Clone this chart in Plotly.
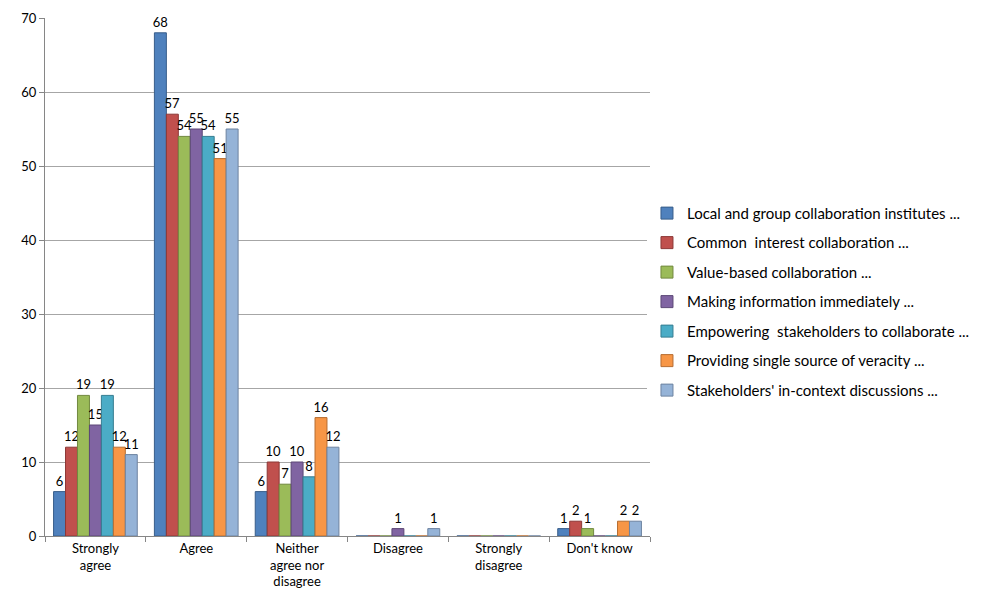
import plotly.graph_objects as go

# categories along the x axis
categories = ["Strongly<br>agree", "Agree", "Neither<br>agree nor<br>disagree",
              "Disagree", "Strongly<br>disagree", "Don't know"]

# one series per statement
series_names = [
    "Local and group collaboration institutes ...",
    "Common  interest collaboration ...",
    "Value-based collaboration ...",
    "Making information immediately ...",
    "Empowering  stakeholders to collaborate ...",
    "Providing single source of veracity ...",
    "Stakeholders' in-context discussions ...",
]

local_group = [6, 68, 6, 0, 0, 1]
common_interest = [12, 57, 10, 0, 0, 2]
value_based = [19, 54, 7, 0, 0, 1]
making_info = [15, 55, 10, 1, 0, 0]
empowering = [19, 54, 8, 0, 0, 0]
single_source = [12, 51, 16, 0, 0, 2]
in_context = [11, 55, 12, 1, 0, 2]

all_values = [local_group, common_interest, value_based, making_info,
              empowering, single_source, in_context]

colors = ["#4F81BD", "#C0504D", "#9BBB59", "#8064A2",
          "#4BACC6", "#F79646", "#95B3D7"]
edge_colors = ["#385D8A", "#8C3836", "#71893F", "#5C4776",
               "#357D91", "#B66D31", "#6D83A0"]

fig = go.Figure()
for i, (name, vals) in enumerate(zip(series_names, all_values)):
    fig.add_trace(go.Bar(
        x=categories,
        y=vals,
        name=name,
        legendgroup=str(i),
        marker=dict(color=colors[i], line=dict(color=edge_colors[i], width=1)),
        text=[str(v) if v else "" for v in vals],
        textposition="outside",
        textfont=dict(size=13, color="#000000"),
        cliponaxis=False,
    ))

fig.update_layout(
    width=983,
    height=607,
    barmode="group",
    bargap=0.17,
    bargroupgap=0,
    plot_bgcolor="white",
    paper_bgcolor="white",
    font=dict(family="Lato, 'Open Sans', sans-serif", size=13, color="#000000"),
    margin=dict(l=37, r=341, t=10, b=79),
    legend=dict(
        x=0.995, y=0.452, xanchor="left", yanchor="middle",
        font=dict(size=15),
        tracegroupgap=7,
        itemwidth=30,
    ),
    uniformtext=dict(mode="show", minsize=13),
)

fig.update_yaxes(
    range=[0, 70],
    dtick=10,
    showgrid=True,
    gridcolor="#A6A6A6",
    gridwidth=1,
    showline=True,
    linecolor="#868686",
    ticks="outside",
    ticklen=5,
    tickcolor="#868686",
    zeroline=False,
    automargin=False,
    tickfont=dict(size=13, color="#000000"),
)
fig.update_xaxes(
    showline=True,
    linecolor="#868686",
    ticks="outside",
    ticklen=5,
    tickcolor="#868686",
    tickson="boundaries",
    automargin=False,
    tickfont=dict(size=13, color="#000000"),
)

fig.write_html("out.html")
